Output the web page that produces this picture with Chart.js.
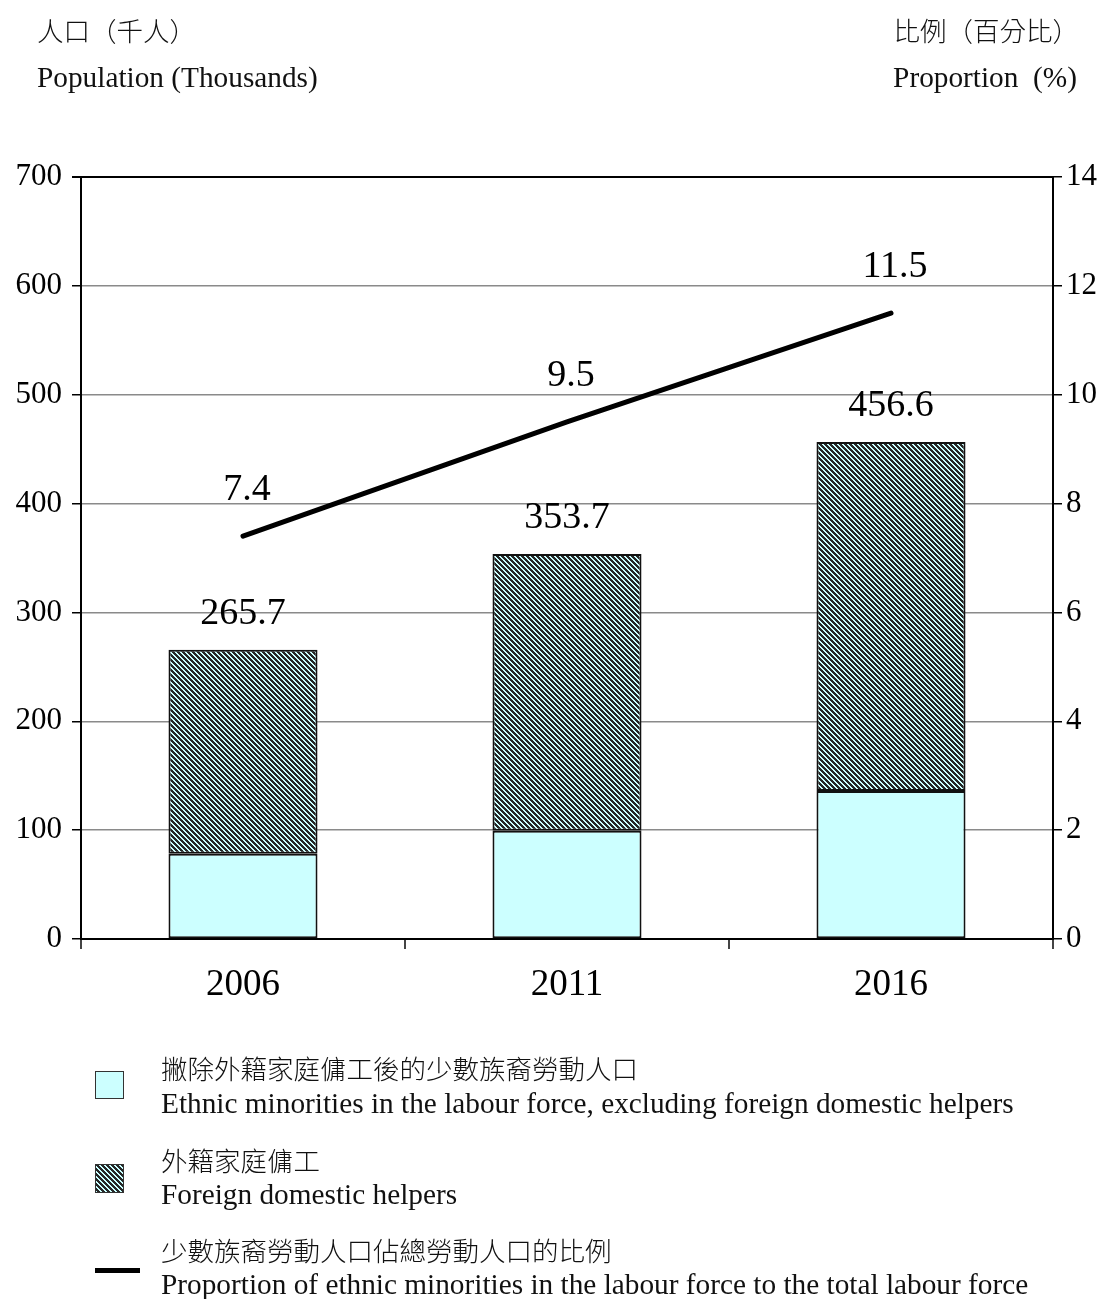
<!DOCTYPE html>
<html>
<head>
<meta charset="utf-8">
<script src="https://cdn.jsdelivr.net/npm/chart.js@4/dist/chart.umd.min.js"></script>
<style>
  body { margin: 0; background: #fff; }
  #wrap { position: relative; width: 1109px; height: 1299px; overflow: hidden; }
  #chart { position: absolute; left: 0; top: 0; }
  .t { position: absolute; white-space: pre; color: #111; }
  .zh { font-family: "Noto Sans CJK TC", "Noto Sans CJK SC", sans-serif; font-size: 26.5px; font-weight: 300; }
  .en { font-family: "Liberation Serif", "Times New Roman", serif; font-size: 29.3px; }
  .sw { position: absolute; box-sizing: border-box; }
</style>
</head>
<body>
<div id="wrap">
  <canvas id="chart" width="1109" height="1299"></canvas>

  <div class="t zh" style="left:37px; top:12px; line-height:36px;">人口（千人）</div>
  <div class="t en" style="left:37px; top:59px; line-height:36px;">Population (Thousands)</div>
  <div class="t zh" style="right:30px; top:12px; line-height:36px;">比例（百分比）</div>
  <div class="t en" style="right:32px; top:59px; line-height:36px;">Proportion  (%)</div>

  <div class="sw" style="left:95px; top:1071px; width:29px; height:28px; background:#ccffff; border:1px solid #333;"></div>
  <div class="t zh" style="left:161px; top:1050px; line-height:36px;">撇除外籍家庭傭工後的少數族裔勞動人口</div>
  <div class="t en" style="left:161px; top:1085px; line-height:36px;">Ethnic minorities in the labour force, excluding foreign domestic helpers</div>

  <canvas class="sw" id="hatchSwatch" width="29" height="29" style="left:95px; top:1164px;"></canvas>
  <div class="t zh" style="left:161px; top:1142px; line-height:36px;">外籍家庭傭工</div>
  <div class="t en" style="left:161px; top:1176px; line-height:36px;">Foreign domestic helpers</div>

  <div class="sw" style="left:95px; top:1268px; width:45px; height:5px; background:#000;"></div>
  <div class="t zh" style="left:161px; top:1232px; line-height:36px;">少數族裔勞動人口佔總勞動人口的比例</div>
  <div class="t en" style="left:161px; top:1266px; line-height:36px;">Proportion of ethnic minorities in the labour force to the total labour force</div>
</div>

<script>
// census years
const years = ['2006', '2011', '2016'];
// ethnic minorities in the labour force, excluding FDH (thousands)
const exclFdh = [78.4, 99.5, 136.0];
// foreign domestic helpers (thousands)
const fdh = [187.3, 254.2, 320.6];
// share of ethnic minorities in the total labour force (%)
const proportion = [7.4, 9.5, 11.5];

const leftMax = 700, leftStep = 100;
const rightMax = 14, rightStep = 2;

const serif = '"Liberation Serif", "Times New Roman", serif';

// diagonal "\" stripes, dark on pale cyan
function makeHatch() {
    const size = 5;
    const c = document.createElement('canvas');
    c.width = size; c.height = size;
    const g = c.getContext('2d');
    g.fillStyle = '#ccffff';
    g.fillRect(0, 0, size, size);
    g.fillStyle = '#262626';
    for (let y = 0; y < size; y++) {
        for (let x = 0; x < size; x++) {
            if (((x - y) % size + size) % size < 3) g.fillRect(x, y, 1, 1);
        }
    }
    return c;
}
const hatchTile = makeHatch();
const hatch = document.getElementById('chart').getContext('2d').createPattern(hatchTile, 'repeat');

// legend swatch uses the same tile
(function () {
    const sw = document.getElementById('hatchSwatch');
    const g = sw.getContext('2d');
    g.fillStyle = g.createPattern(hatchTile, 'repeat');
    g.fillRect(0, 0, sw.width, sw.height);
    g.strokeStyle = '#333';
    g.lineWidth = 1;
    g.strokeRect(0.5, 0.5, sw.width - 1, sw.height - 1);
})();

const valueLabels = {
    id: 'valueLabels',
    afterDatasetsDraw(chart) {
        const ctx = chart.ctx;
        ctx.save();
        ctx.fillStyle = '#000';
        ctx.font = '38px ' + serif;
        ctx.textAlign = 'center';
        ctx.textBaseline = 'middle';
        chart.getDatasetMeta(1).data.forEach((bar, i) => {
            const total = exclFdh[i] + fdh[i];
            ctx.fillText(total.toFixed(1), bar.x, bar.y - 36);
        });
        chart.getDatasetMeta(2).data.forEach((pt, i) => {
            ctx.fillText(proportion[i].toFixed(1), pt.x + 4, pt.y - 46);
        });
        ctx.restore();
    }
};

new Chart(document.getElementById('chart'), {
    data: {
        labels: years,
        datasets: [
            {
                type: 'bar',
                data: exclFdh,
                stack: 'lf',
                yAxisID: 'y',
                backgroundColor: '#ccffff',
                borderColor: '#111',
                borderWidth: 2,
                borderSkipped: false,
                barPercentage: 0.46,
                categoryPercentage: 1,
                order: 2
            },
            {
                type: 'bar',
                data: fdh,
                stack: 'lf',
                yAxisID: 'y',
                backgroundColor: hatch,
                borderColor: '#111',
                borderWidth: 2,
                borderSkipped: false,
                barPercentage: 0.46,
                categoryPercentage: 1,
                order: 2
            },
            {
                type: 'line',
                data: proportion,
                yAxisID: 'y1',
                borderColor: '#000',
                borderWidth: 5,
                borderCapStyle: 'round',
                pointRadius: 0,
                fill: false,
                order: 0
            }
        ]
    },
    options: {
        responsive: false,
        animation: false,
        layout: { padding: { top: 177, left: 0, right: 0, bottom: 0 } },
        plugins: {
            legend: { display: false },
            tooltip: { enabled: false }
        },
        scales: {
            x: {
                stacked: true,
                grid: {
                    offset: true,
                    drawOnChartArea: false,
                    tickLength: 10,
                    tickColor: '#444',
                    lineWidth: 2
                },
                border: { color: '#000', width: 2 },
                ticks: { color: '#000', font: { family: serif, size: 37 }, padding: 14 },
                afterFit(s) { s.height = 1299 - 939; }
            },
            y: {
                position: 'left',
                stacked: true,
                min: 0,
                max: leftMax,
                ticks: { stepSize: leftStep, color: '#000', font: { family: serif, size: 31 }, padding: 10 },
                grid: {
                    color: c => c.tick && c.tick.value === leftMax ? '#000' : '#8a8a8a',
                    lineWidth: c => c.tick && c.tick.value === leftMax ? 2 : 1.5,
                    tickColor: '#000',
                    tickLength: 9
                },
                border: { color: '#000', width: 2 },
                afterFit(s) { s.width = 81; }
            },
            y1: {
                position: 'right',
                min: 0,
                max: rightMax,
                ticks: { stepSize: rightStep, color: '#000', font: { family: serif, size: 31 }, padding: 4 },
                grid: { drawOnChartArea: false, tickColor: '#000', tickLength: 9, lineWidth: 1.5 },
                border: { color: '#000', width: 2 },
                afterFit(s) { s.width = 1109 - 1053; }
            }
        }
    },
    plugins: [valueLabels]
});
</script>
</body>
</html>
